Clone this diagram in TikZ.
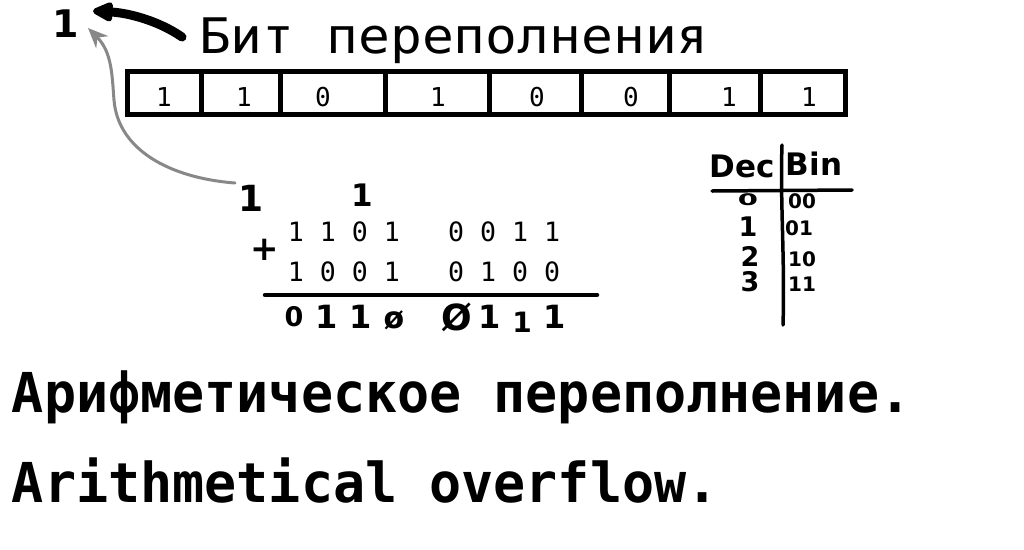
\documentclass[tikz,border=0pt]{standalone}
\usepackage{fontspec}
\usepackage{graphicx}
\usetikzlibrary{arrows.meta,calc}
\newfontfamily\titlefont[FakeStretch=1.08]{DejaVu Sans Mono}
\newfontfamily\capfont[FakeStretch=0.97]{DejaVu Sans Mono}
\newfontfamily\digfont{DejaVu Sans Mono}
\newfontfamily\handfont{DejaVu Sans}
\definecolor{arrowgray}{HTML}{888888}
\tikzset{
  regline/.style={line width=5pt},
  regdigit/.style={font=\digfont\fontsize{26}{28}\selectfont},
  rowdigits/.style={font=\digfont\fontsize{26.6}{28}\selectfont},
  titletext/.style={font=\titlefont\fontsize{49}{55}\selectfont},
  captext/.style={font=\capfont\bfseries\fontsize{55}{60}\selectfont},
  hand/.style={font=\handfont\bfseries\fontsize{#1}{#1}\selectfont},
  sumline/.style={line width=4.5pt, line cap=round},
  tableline/.style={line width=3.5pt, line cap=round},
  blackarrow/.style={line width=9pt, line cap=round, -{Triangle[length=24pt,width=21pt,round]}},
  grayarrow/.style={draw=arrowgray, line width=3pt, line cap=round, -{Stealth[length=20pt,width=17pt]}, arrowgray}
}
\begin{document}
\begin{tikzpicture}[x=1pt,y=-1pt, every node/.style={inner sep=0pt,outer sep=0pt}]
\useasboundingbox (0,0) rectangle (1024,549);
\fill[white] (0,0) rectangle (1024,549);

% register
\draw[regline] (127,71) rectangle (845,114);
\foreach \x in {201,280,385,489,581,669,760} \draw[regline] (\x,71) -- (\x,114);
\foreach \x/\d [count=\i] in {164/1,244/1,323/0,438/1,537/0,631/0,729/1,809/1}
  \node[regdigit] (b\i) at (\x,97.5) {\d};

% title
\node[titletext, anchor=base west] (title) at (199,53) {Бит переполнения};

% overflow bit
\node[hand=38] (ovf) at (66,24) {1};

% carries
\node[hand=36] (c1) at (251,198) {1};
\node[hand=31] (c2) at (362,195) {1};

% arrows
\draw[blackarrow] ($(title.base west)+(-17,-16)$) .. controls ($(title.base west)+(-40,-32)$) and ($(title.base west)+(-70,-40)$) .. ($(ovf.center)+(27,-13)$);
\draw[grayarrow] ($(c1.center)+(-16,-15)$) .. controls (170,178) and (118,150) .. (114,100) .. controls (112,75) and (112,52) .. ($(ovf.center)+(22,4)$);

% addition
\node[hand=34] (plus) at (265,250) {+};
\node[rowdigits] (row1) at (424,231.5) {1 1 0 1\ \ \ 0 0 1 1};
\node[rowdigits] (row2) at (424,271.5) {1 0 0 1\ \ \ 0 1 0 0};
\draw[sumline] (265,295) -- (597,295);
\node[hand=27] (r1) at (294,317) {0};
\node[hand=32] (r2) at (327,317) {1};
\node[hand=32] (r3) at (361,317) {1};
\node[hand=30] (r4) at (394,320) {ø};
\node[hand=36] (r5) at (457,317) {Ø};
\node[hand=32] (r6) at (490,317) {1};
\node[hand=28] (r7) at (522,322) {1};
\node[hand=32] (r8) at (555,317) {1};

% Dec / Bin table
\draw[tableline] (782,145) .. controls (780,200) and (785,260) .. (783,325);
\draw[tableline] (712,191) -- (852,190);
\node[hand=31] (dec) at (742,166) {Dec};
\node[hand=31] (bin) at (814,164) {Bin};
\node[hand=29] (d0) at (748,200) {\scalebox{1}[0.55]{0}};
\node[hand=27] (d1) at (748,227) {1};
\node[hand=27] (d2) at (750,256) {2};
\node[hand=27] (d3) at (750,282) {3};
\node[hand=20] (e0) at (802,201) {00};
\node[hand=20] (e1) at (799,228) {01};
\node[hand=20] (e2) at (802,259) {10};
\node[hand=20] (e3) at (802,284) {11};

% captions
\node[captext, anchor=base west] (cap1) at (12,412) {Арифметическое переполнение.};
\node[captext, anchor=base west] (cap2) at (12,502) {Arithmetical overflow.};
\end{tikzpicture}
\end{document}
